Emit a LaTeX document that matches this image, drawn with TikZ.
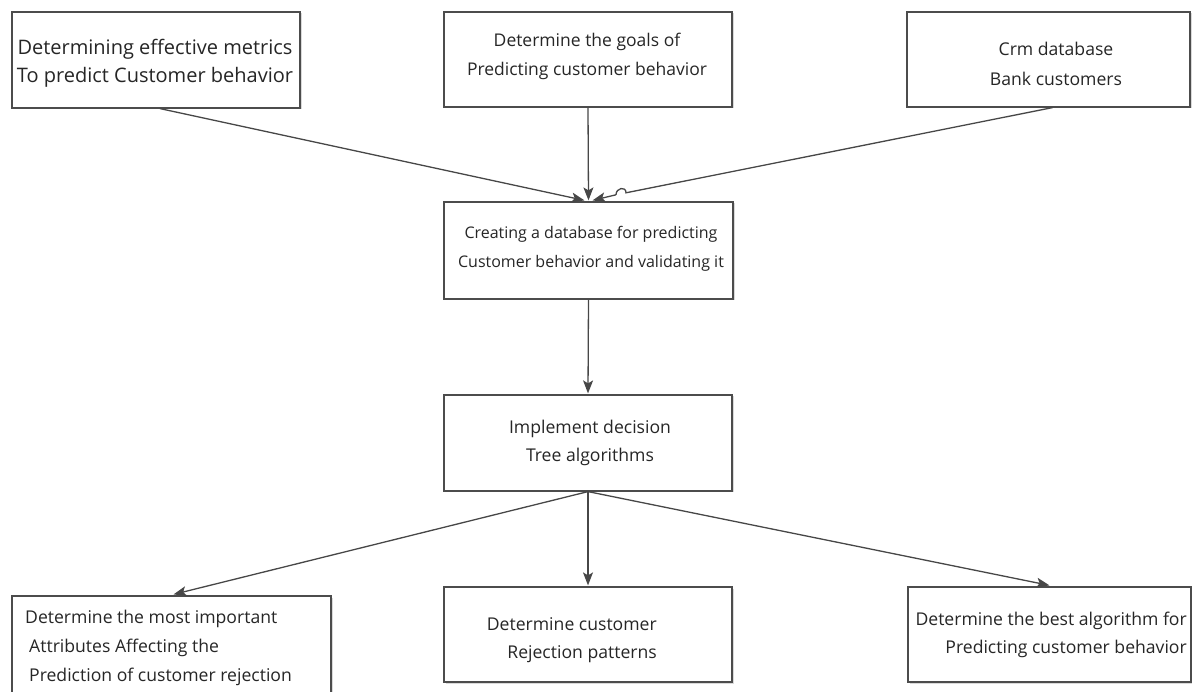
\documentclass[tikz,border=0pt]{standalone}
\usepackage{fontspec}
\setmainfont{Open Sans}
\usetikzlibrary{calc,arrows.meta,shadows}
\begin{document}
\begin{tikzpicture}[x=1pt,y=-1pt,
  box/.style={draw=black!70, line width=1.2pt, fill=white, rectangle, inner sep=0pt,
    drop shadow={shadow xshift=1.5pt, shadow yshift=-1.5pt, opacity=0.3}},
  txt/.style={inner sep=0pt, text=black!85},
  arr/.style={draw=black!72, line width=1.3pt, -{Stealth[length=13pt,width=10pt,inset=3pt]}}]
\useasboundingbox (0,0) rectangle (1192,692);
% boxes
\node[box, minimum width=288pt, minimum height=96pt] (b1) at (156,60) {};
\node[box, minimum width=288pt, minimum height=95pt] (b2) at (588,59.5) {};
\node[box, minimum width=283pt, minimum height=95pt] (b3) at (1048.5,59.5) {};
\node[box, minimum width=289pt, minimum height=97pt] (b4) at (588.5,250.5) {};
\node[box, minimum width=288pt, minimum height=96pt] (b5) at (588,443) {};
\node[box, minimum width=319pt, minimum height=98pt] (b6) at (171.5,645) {};
\node[box, minimum width=288pt, minimum height=95pt] (b7) at (588,634.5) {};
\node[box, minimum width=283pt, minimum height=95pt] (b8) at (1049.5,634.5) {};
% texts
\node[txt, align=center, font=\fontsize{20}{28}\selectfont] (t1) at (155,63) {Determining effective metrics\\To predict Customer behavior};
\node[txt, align=center, font=\fontsize{17.5}{29}\selectfont] (t2) at (587,56.5) {Determine the goals of\\Predicting customer behavior};
\node[txt, align=center, font=\fontsize{17.6}{30}\selectfont] (t3) at (1056,64) {Crm database\\Bank customers};
\node[txt, align=center, font=\fontsize{16}{29}\selectfont] (t4) at (591,248.5) {Creating a database for predicting\\Customer behavior and validating it};
\node[txt, align=center, font=\fontsize{17.6}{28}\selectfont] (t5) at (590,443) {Implement decision\\Tree algorithms};
\node[txt, align=left, anchor=west, font=\fontsize{17.6}{29}\selectfont] (t6) at (25,647.5) {Determine the most important\\\hspace*{4pt}Attributes Affecting the\\\hspace*{4pt}Prediction of customer rejection};
\node[txt, align=right, anchor=east, font=\fontsize{17.6}{28}\selectfont] (t7) at (657,640) {Determine customer\\Rejection patterns};
\node[txt, align=right, anchor=east, font=\fontsize{17.6}{28}\selectfont] (t8) at (1187,635) {Determine the best algorithm for\\Predicting customer behavior};
% hop coordinates on the b3 arrow
\coordinate (h1) at (626,192.8);
\coordinate (h2) at (616,194.8);
% connectors
\draw[arr] ($(b1.south)+(4,0)$) -- ($(b4.north)+(-4,-1)$);
\draw[arr] (b2.south) -- ($(b4.north)+(0,-1)$);
\draw[draw=black!72, line width=1.3pt] ($(b3.south)+(4,0)$) -- (h1) .. controls ($(h1)+(0,-7)$) and ($(h2)+(0,-7)$) .. (h2);
\draw[arr] (h2) -- ($(b4.north)+(4,-1)$);
\draw[arr] (b4.south) -- ($(b5.north)+(0,-1)$);
\draw[arr] (b5.south) -- ($(b6.north)+(2,-1)$);
\draw[arr] (b5.south) -- ($(b7.north)+(0,-1)$);
\draw[arr] (b5.south) -- ($(b8.north)+(0,-1)$);
\end{tikzpicture}
\end{document}
